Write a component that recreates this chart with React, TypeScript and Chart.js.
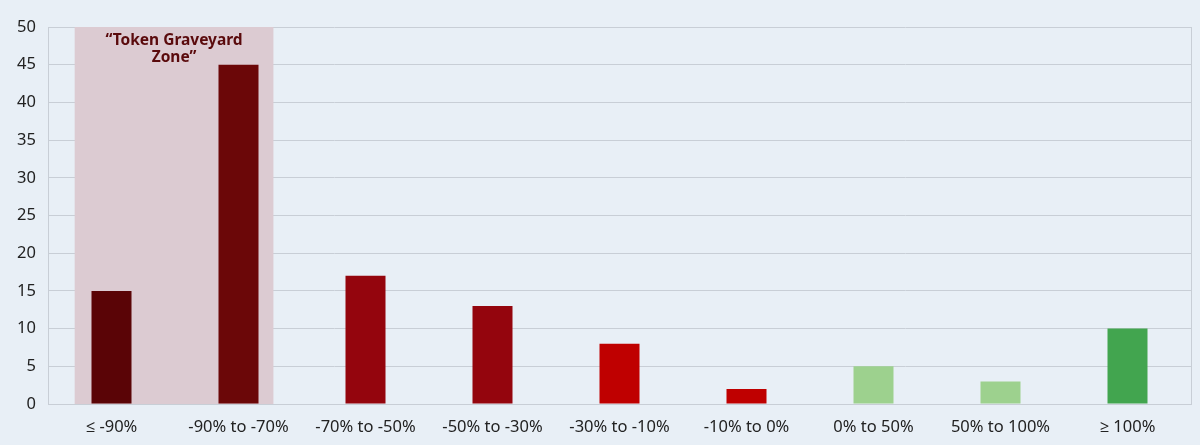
import React, { useEffect, useRef } from "react";
import { Chart, registerables } from "chart.js";

Chart.register(...registerables);

const categories = ["≤ -90%", "-90% to -70%", "-70% to -50%", "-50% to -30%", "-30% to -10%", "-10% to 0%", "0% to 50%", "50% to 100%", "≥ 100%"];
const values = [15, 45, 17, 13, 8, 2, 5, 3, 10];
const barColors = ["#5a0406", "#6b0708", "#94050d", "#94050d", "#bf0000", "#bf0000", "#9dd18e", "#9dd18e", "#42a54f"];
const zoneLabel = ["“Token Graveyard", "Zone”"];
const yTicks = [0, 5, 10, 15, 20, 25, 30, 35, 40, 45, 50];

const FONT = "'Noto Sans', 'Open Sans', sans-serif";

const zonePlugin = {
  id: "zone",
  beforeDatasetsDraw(chart: any) {
    const { ctx, chartArea, scales } = chart;
    const x = scales.x;
    const y = scales.y;
    const step = x.getPixelForValue(1) - x.getPixelForValue(0);
    const left = x.getPixelForValue(0) - step * 0.29;
    const right = x.getPixelForValue(1) + step * 0.275;
    ctx.save();
    ctx.fillStyle = "#dccbd2";
    ctx.fillRect(left, y.getPixelForValue(50), right - left, y.getPixelForValue(0) - y.getPixelForValue(50));
    ctx.strokeStyle = "#c8ced6";
    ctx.lineWidth = 1;
    ctx.beginPath();
    ctx.moveTo(Math.round(chartArea.right) + 0.5, chartArea.top);
    ctx.lineTo(Math.round(chartArea.right) + 0.5, chartArea.bottom);
    ctx.stroke();
    ctx.restore();
  },
  afterDatasetsDraw(chart: any) {
    const { ctx, scales } = chart;
    const x = scales.x;
    const y = scales.y;
    const step = x.getPixelForValue(1) - x.getPixelForValue(0);
    const left = x.getPixelForValue(0) - step * 0.29;
    const right = x.getPixelForValue(1) + step * 0.275;
    const cx = (left + right) / 2;
    const top = y.getPixelForValue(50);
    ctx.save();
    ctx.fillStyle = "#5a0a0c";
    ctx.font = `bold 15.5px ${FONT}`;
    ctx.textAlign = "center";
    ctx.textBaseline = "middle";
    zoneLabel.forEach((t, i) => ctx.fillText(t, cx, top + 14 + i * 17));
    ctx.restore();
  },
};

export default function App() {
  const ref = useRef<HTMLCanvasElement>(null);
  useEffect(() => {
    document.body.style.margin = "0";
    document.body.style.background = "#e8eff6";
    const chart = new Chart(ref.current!, {
      type: "bar",
      data: {
        labels: categories,
        datasets: [
          {
            data: values,
            backgroundColor: barColors,
            barPercentage: 0.315,
            categoryPercentage: 1,
          },
        ],
      },
      options: {
        animation: false,
        responsive: false,
        maintainAspectRatio: false,
        layout: { padding: { top: 27, right: 9, left: 0, bottom: 0 } },
        plugins: { legend: { display: false }, tooltip: { enabled: false } },
        scales: {
          x: {
            grid: { display: false, drawTicks: false },
            border: { display: true, color: "#c8ced6" },
            ticks: { color: "#222", font: { family: FONT, size: 16.5 }, padding: 13, maxRotation: 0, autoSkip: false },
            afterFit(s: any) { s.height = 41; },
          },
          y: {
            min: 0,
            max: 50,
            afterBuildTicks(s: any) { s.ticks = yTicks.map((v) => ({ value: v })); },
            grid: { color: "#c8ced6", drawTicks: false },
            border: { display: true, color: "#c8ced6" },
            ticks: { color: "#222", font: { family: FONT, size: 16.5 }, padding: 12 },
            afterFit(s: any) { s.width = 48; },
          },
        },
      },
      plugins: [zonePlugin],
    });
    return () => chart.destroy();
  }, []);
  return (
    <div style={{ width: 1200, height: 445, background: "#e8eff6" }}>
      <canvas ref={ref} width={1200} height={445} />
    </div>
  );
}
